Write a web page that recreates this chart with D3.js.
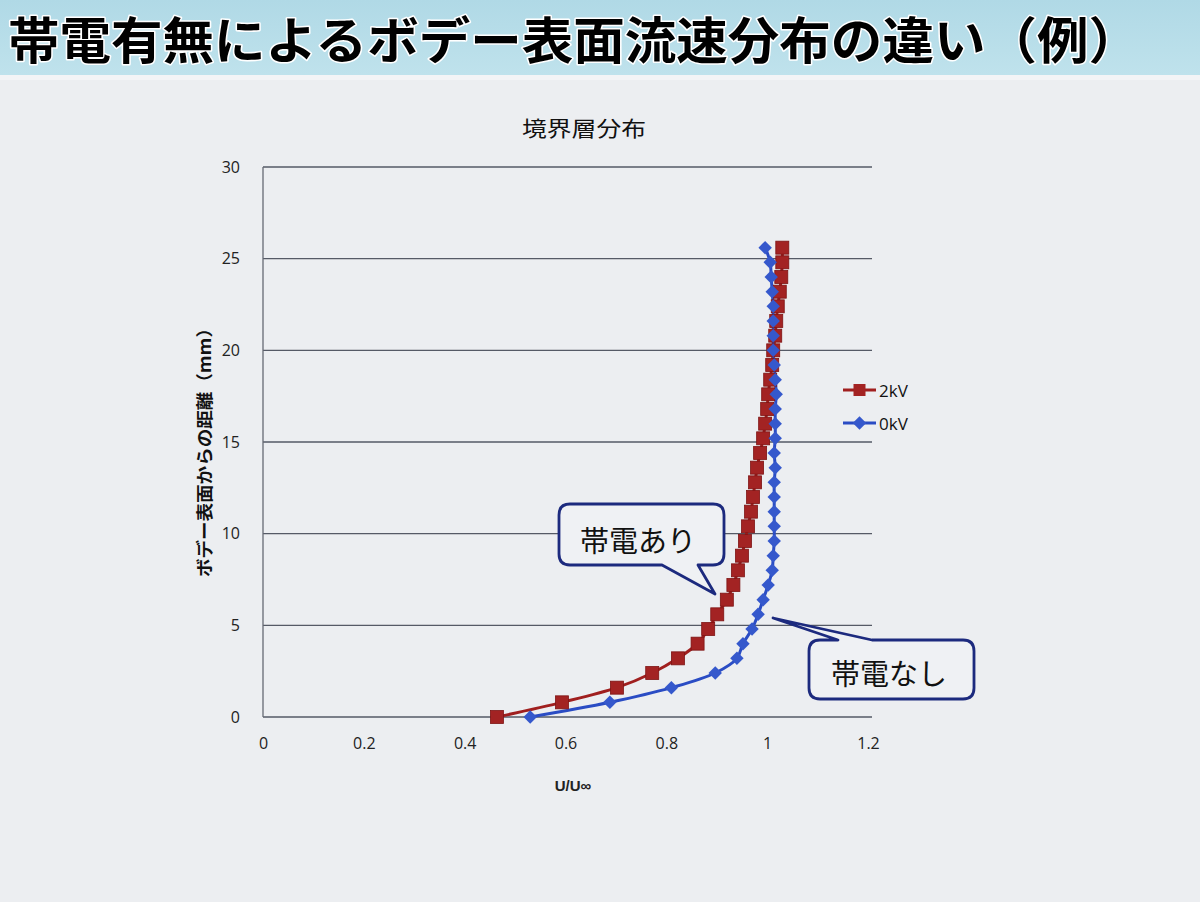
<!DOCTYPE html>
<html><head><meta charset="utf-8">
<script src="https://cdn.jsdelivr.net/npm/d3@7"></script>
<style>html,body{margin:0;padding:0;background:#eceef1;}svg{display:block;}</style>
</head><body>
<svg id="c" width="1200" height="902"></svg>
<script>
// ---- data ----
const slideTitle = "帯電有無によるボデー表面流速分布の違い（例）";
const chartTitle = "境界層分布";
const yAxisTitle = "ボデー表面からの距離（mm）";
const xAxisTitle = "U/U∞";
const seriesNames = ["2kV", "0kV"];
const distance = [0, 0.8, 1.6, 2.4, 3.2, 4.0, 4.8, 5.6, 6.4, 7.2, 8.0, 8.8, 9.6, 10.4, 11.2, 12.0, 12.8,
  13.6, 14.4, 15.2, 16.0, 16.8, 17.6, 18.4, 19.2, 20.0, 20.8, 21.6, 22.4, 23.2, 24.0, 24.8, 25.6];
const u2kV = [0.464, 0.593, 0.702, 0.772, 0.823, 0.862, 0.883, 0.901, 0.920, 0.933, 0.942, 0.950, 0.956,
  0.962, 0.968, 0.972, 0.976, 0.980, 0.986, 0.992, 0.996, 1.000, 1.002, 1.006, 1.010, 1.012, 1.016,
  1.018, 1.021, 1.025, 1.028, 1.030, 1.030];
const u0kV = [0.530, 0.688, 0.810, 0.897, 0.940, 0.952, 0.970, 0.982, 0.992, 1.002, 1.010, 1.012, 1.014,
  1.014, 1.014, 1.014, 1.014, 1.016, 1.014, 1.016, 1.016, 1.016, 1.018, 1.016, 1.014, 1.012, 1.012,
  1.012, 1.012, 1.010, 1.008, 1.006, 0.996];
const xTicks = [0, 0.2, 0.4, 0.6, 0.8, 1.0, 1.2];
const xTickLabels = ["0", "0.2", "0.4", "0.6", "0.8", "1", "1.2"];
const yTicks = [0, 5, 10, 15, 20, 25, 30];
const calloutTexts = ["帯電あり", "帯電なし"];

// ---- drawing ----
const svg = d3.select("#c");
const defs = svg.append("defs");
const g1 = defs.append("linearGradient").attr("id","band").attr("x1",0).attr("x2",0).attr("y1",0).attr("y2",1);
g1.append("stop").attr("offset","0%").attr("stop-color","#b0d9e6");
g1.append("stop").attr("offset","100%").attr("stop-color","#bfe2ec");

svg.append("rect").attr("x",0).attr("y",0).attr("width",1200).attr("height",902).attr("fill","#eceef1");
svg.append("rect").attr("x",0).attr("y",0).attr("width",1200).attr("height",75).attr("fill","url(#band)");
svg.append("rect").attr("x",0).attr("y",75).attr("width",1200).attr("height",5).attr("fill","#f3f4f6");

svg.append("text").text(slideTitle)
  .attr("x",8).attr("y",59)
  .attr("textLength",1132).attr("lengthAdjust","spacingAndGlyphs")
  .attr("font-family","'Noto Sans CJK JP'").attr("font-weight","bold").attr("font-size",50)
  .attr("fill","#000").attr("stroke","#ffffff").attr("stroke-width",3)
  .attr("paint-order","stroke").attr("stroke-linejoin","round");

const x = d3.scaleLinear().domain([0,1.2]).range([263,868]);
const y = d3.scaleLinear().domain([0,30]).range([717,167]);

// gridlines
svg.append("g").selectAll("line").data(yTicks).join("line")
  .attr("x1",x(0)).attr("x2",x(1.2)+4).attr("y1",d=>y(d)).attr("y2",d=>y(d))
  .attr("stroke","#555a66").attr("stroke-width",1.3);
svg.append("line").attr("x1",x(0)).attr("x2",x(0)).attr("y1",y(0)).attr("y2",y(30))
  .attr("stroke","#666a74").attr("stroke-width",1.3);

// axes labels via d3 axes
const yAx = svg.append("g").attr("transform",`translate(${x(0)-20},0)`)
  .call(d3.axisLeft(y).tickValues(yTicks).tickSize(0).tickFormat(d3.format("d")));
yAx.select(".domain").remove();
yAx.selectAll("text").attr("font-family","'Open Sans'").attr("font-size",16).attr("fill","#222").attr("dx",0);
const xAx = svg.append("g").attr("transform",`translate(0,${y(0)+18})`)
  .call(d3.axisBottom(x).tickValues(xTicks).tickSize(0).tickFormat((d,i)=>xTickLabels[i]));
xAx.select(".domain").remove();
xAx.selectAll("text").attr("font-family","'Open Sans'").attr("font-size",16).attr("fill","#222");

svg.append("text").text(chartTitle).attr("x",584).attr("y",136).attr("text-anchor","middle")
  .attr("textLength",124).attr("lengthAdjust","spacingAndGlyphs")
  .attr("font-family","'Noto Sans CJK JP'").attr("font-size",21).attr("fill","#111");
svg.append("text").text(yAxisTitle)
  .attr("transform","translate(211,448) rotate(-90)").attr("text-anchor","middle")
  .attr("textLength",258).attr("lengthAdjust","spacingAndGlyphs")
  .attr("font-family","'Noto Sans CJK JP'").attr("font-weight","bold").attr("font-size",17).attr("fill","#111");
svg.append("text").text(xAxisTitle).attr("x",573).attr("y",791).attr("text-anchor","middle")
  .attr("font-family","'Liberation Sans'").attr("font-weight","bold").attr("font-size",15).attr("fill","#222");

const red = "#a32323", redLine = "#a01f1f", blue = "#3558cc", blueLine = "#2a4cc4";
const line = d3.line().curve(d3.curveCatmullRom.alpha(0.5));
const pts2 = distance.map((d,i)=>[x(u2kV[i]), y(d)]);
const pts0 = distance.map((d,i)=>[x(u0kV[i]), y(d)]);
svg.append("path").attr("d",line(pts2)).attr("fill","none").attr("stroke",redLine).attr("stroke-width",3);
svg.append("path").attr("d",line(pts0)).attr("fill","none").attr("stroke",blueLine).attr("stroke-width",3);
svg.append("g").selectAll("rect").data(pts2).join("rect")
  .attr("x",d=>d[0]-6.5).attr("y",d=>d[1]-6.5).attr("width",13).attr("height",13)
  .attr("fill",red).attr("stroke","#7e1414").attr("stroke-width",0.8);
const dia = d3.symbol().type(d3.symbolDiamond2).size(115);
svg.append("g").selectAll("path").data(pts0).join("path")
  .attr("d",dia).attr("transform",d=>`translate(${d[0]},${d[1]})`)
  .attr("fill",blue);

// legend
const lg = [{n:seriesNames[0], c:redLine, yy:390, t:"sq"},{n:seriesNames[1], c:blueLine, yy:423, t:"di"}];
lg.forEach(l=>{
  svg.append("line").attr("x1",843).attr("x2",876).attr("y1",l.yy).attr("y2",l.yy).attr("stroke",l.c).attr("stroke-width",3);
  if(l.t==="sq") svg.append("rect").attr("x",853.5).attr("y",l.yy-6).attr("width",12).attr("height",12).attr("fill",red);
  else svg.append("path").attr("d",dia).attr("transform",`translate(859.5,${l.yy})`).attr("fill",blue);
  svg.append("text").text(l.n).attr("x",879).attr("y",l.yy+6.5)
    .attr("font-family","'Open Sans'").attr("font-size",17).attr("fill","#111");
});

// callouts
function callout(bx,by,bw,bh,r,base1,base2,tip,onTop,txt,tx,ty){
  const x0=bx,y0=by,x1=bx+bw,y1=by+bh;
  let p;
  if(!onTop){
    p=`M${x0+r},${y0} H${x1-r} Q${x1},${y0} ${x1},${y0+r} V${y1-r} Q${x1},${y1} ${x1-r},${y1} H${base2} L${tip[0]},${tip[1]} L${base1},${y1} H${x0+r} Q${x0},${y1} ${x0},${y1-r} V${y0+r} Q${x0},${y0} ${x0+r},${y0} Z`;
  } else {
    p=`M${x0+r},${y0} H${base1} L${tip[0]},${tip[1]} L${base2},${y0} H${x1-r} Q${x1},${y0} ${x1},${y0+r} V${y1-r} Q${x1},${y1} ${x1-r},${y1} H${x0+r} Q${x0},${y1} ${x0},${y1-r} V${y0+r} Q${x0},${y0} ${x0+r},${y0} Z`;
  }
  svg.append("path").attr("d",p).attr("fill","#eff1f4").attr("stroke","#1c2a7e").attr("stroke-width",2.8).attr("stroke-linejoin","round");
  svg.append("text").text(txt).attr("x",tx).attr("y",ty).attr("text-anchor","middle")
    .attr("font-family","'Noto Sans CJK JP'").attr("font-size",29).attr("fill","#111");
}
callout(559,504,165,61,11,662,698,[715,594],false,calloutTexts[0],638,552);
callout(809,640,165,59,11,838,872,[773,618],true,calloutTexts[1],889,685);
</script>
</body></html>
